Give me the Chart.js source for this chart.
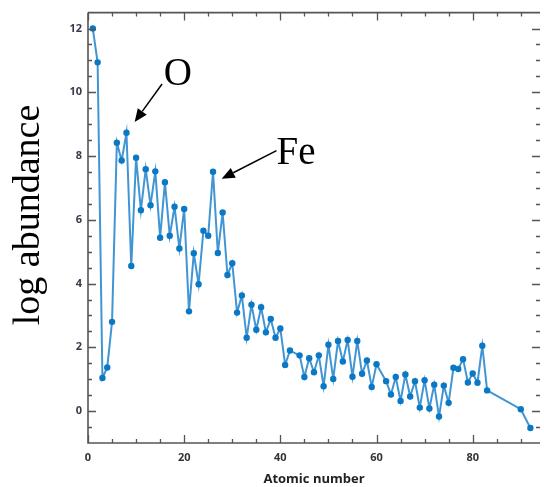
<!DOCTYPE html>
<html>
<head>
<meta charset="utf-8">
<script src="https://cdn.jsdelivr.net/npm/chart.js@4"></script>
<style>
  html,body{margin:0;padding:0;background:#fff;}
  #wrap{width:544px;height:487px;}
</style>
</head>
<body>
<div id="wrap"><canvas id="abund" width="544" height="487"></canvas></div>
<script>
/* ---------- data (solar abundances) ---------- */
const atomicNumber = [1,2,3,4,5,6,7,8,9,10,11,12,13,14,15,16,17,18,19,20,
  21,22,23,24,25,26,27,28,29,30,31,32,33,34,35,36,37,38,39,40,41,42,44,45,46,47,48,49,50,
  51,52,53,54,55,56,57,58,59,60,62,63,64,65,66,67,68,69,70,71,72,73,74,75,76,77,78,79,80,
  81,82,83,90,92];
const logAbundance = [12.0,10.94,1.04,1.37,2.80,8.42,7.86,8.73,4.55,7.95,6.30,7.59,6.46,7.52,5.44,7.18,5.50,6.41,5.10,6.34,
  3.13,4.95,3.98,5.66,5.50,7.51,4.96,6.23,4.27,4.64,3.09,3.63,2.30,3.34,2.55,3.26,2.47,2.89,2.30,2.59,1.45,1.90,1.75,1.07,1.66,1.22,1.75,0.78,2.08,
  1.01,2.20,1.56,2.23,1.08,2.20,1.17,1.59,0.76,1.47,0.94,0.52,1.07,0.32,1.15,0.46,0.94,0.11,0.97,0.08,0.83,-0.17,0.80,0.26,1.36,1.32,1.63,0.90,1.18,
  0.89,2.05,0.65,0.06,-0.53];

const xTickLabels = [0,20,40,60,80];
const yTickLabels = [0,2,4,6,8,10,12];
const xMinor = [0,5,10,15,20,25,30,35,40,45,50,55,60,65,70,75,80,85,90];
const yMinor = [-0.5,0,0.5,1,1.5,2,2.5,3,3.5,4,4.5,5,5.5,6,6.5,7,7.5,8,8.5,9,9.5,10,10.5,11,11.5,12];

// labelled elements: text, text anchor, arrow tail, arrow tip (data units)
const notes = [
  {text:'O',  at:[18.7,10.22], align:'center', tail:[15.4,10.26], tip:[9.7,9.07]},
  {text:'Fe', at:[39.2,7.76],  align:'left',   tail:[39.2,8.17],  tip:[27.8,7.29]}
];

const points = atomicNumber.map((z,i)=>({x:z, y:logAbundance[i]}));

/* ---------- frame, inward ticks, titles, arrows ---------- */
const frame = {
  id:'frame',
  afterDatasetsDraw(chart){
    const {ctx, chartArea:a, scales:{x,y}} = chart;
    ctx.save();
    ctx.strokeStyle = '#555';
    ctx.lineWidth = 1.6;
    ctx.beginPath();
    ctx.moveTo(a.left, a.top); ctx.lineTo(a.left, a.bottom); ctx.lineTo(a.right, a.bottom);
    ctx.moveTo(a.left, a.top); ctx.lineTo(a.right, a.top);
    ctx.stroke();

    ctx.lineWidth = 1.3;
    ctx.beginPath();
    xMinor.forEach(v=>{
      const px = Math.round(x.getPixelForValue(v)) + 0.5;
      const len = xTickLabels.includes(v) ? 8 : 4;
      ctx.moveTo(px, a.bottom); ctx.lineTo(px, a.bottom - len);
      ctx.moveTo(px, a.top); ctx.lineTo(px, a.top + len);
    });
    yMinor.forEach(v=>{
      const py = Math.round(y.getPixelForValue(v)) + 0.5;
      const len = yTickLabels.includes(v) ? 8 : 4;
      ctx.moveTo(a.left, py); ctx.lineTo(a.left + len, py);
      ctx.moveTo(a.right, py); ctx.lineTo(a.right - len, py);
    });
    ctx.stroke();

    // y title
    ctx.fillStyle = '#000';
    ctx.font = '38px "Liberation Serif"';
    ctx.translate(39, 215);
    ctx.rotate(-Math.PI/2);
    ctx.textAlign = 'center';
    ctx.textBaseline = 'alphabetic';
    ctx.fillText('log abundance', 0, 0);
    ctx.restore();

    // notes with arrows
    ctx.save();
    ctx.fillStyle = '#000';
    ctx.strokeStyle = '#000';
    ctx.lineWidth = 1.5;
    notes.forEach(n=>{
      ctx.font = '39px "Liberation Serif"';
      ctx.textAlign = n.align;
      ctx.textBaseline = 'alphabetic';
      ctx.fillText(n.text, x.getPixelForValue(n.at[0]), y.getPixelForValue(n.at[1]));
      const x0 = x.getPixelForValue(n.tail[0]), y0 = y.getPixelForValue(n.tail[1]);
      const x1 = x.getPixelForValue(n.tip[0]),  y1 = y.getPixelForValue(n.tip[1]);
      const ang = Math.atan2(y1-y0, x1-x0);
      const head = 13, half = 5.5;
      const bx = x1 - head*Math.cos(ang), by = y1 - head*Math.sin(ang);
      ctx.beginPath();
      ctx.moveTo(x0, y0); ctx.lineTo(bx, by);
      ctx.stroke();
      ctx.beginPath();
      ctx.moveTo(x1, y1);
      ctx.lineTo(bx + half*Math.sin(ang), by - half*Math.cos(ang));
      ctx.lineTo(bx - half*Math.sin(ang), by + half*Math.cos(ang));
      ctx.closePath();
      ctx.fill();
    });
    ctx.restore();
  }
};

const tickFont = {family:'"Open Sans"', size:11, weight:'bold'};

new Chart(document.getElementById('abund').getContext('2d'), {
  type:'line',
  data:{
    datasets:[{
      data: points,
      borderColor:'rgba(30,130,205,0.85)',
      borderWidth:2,
      backgroundColor:'#0a78c4',
      pointBackgroundColor:'#0a78c4',
      pointBorderColor:'#0a78c4',
      pointRadius:3.2,
      pointBorderWidth:0,
      tension:0,
      fill:false
    }]
  },
  options:{
    responsive:false,
    animation:false,
    events:[],
    layout:{padding:{top:10, right:0, left:0, bottom:0}},
    plugins:{legend:{display:false}, tooltip:{enabled:false}},
    scales:{
      x:{
        type:'linear', min:0, max:94,
        afterBuildTicks: s => { s.ticks = xTickLabels.map(v=>({value:v})); },
        afterFit: s => { s.height = 44; },
        grid:{display:false, drawTicks:false},
        border:{display:false},
        ticks:{autoSkip:false, maxRotation:0, padding:8, color:'#333', font:tickFont},
        title:{display:true, text:'Atomic number', color:'#222',
               font:{family:'"Open Sans"', size:13, weight:'bold'}, padding:{top:0, bottom:0}}
      },
      y:{
        type:'linear', min:-1, max:12.5,
        afterBuildTicks: s => { s.ticks = yTickLabels.map(v=>({value:v})); },
        afterFit: s => { s.width = 88; },
        grid:{display:false, drawTicks:false},
        border:{display:false},
        ticks:{autoSkip:false, padding:6, color:'#3a3a4c', font:tickFont}
      }
    }
  },
  plugins:[frame]
});
</script>
</body>
</html>
